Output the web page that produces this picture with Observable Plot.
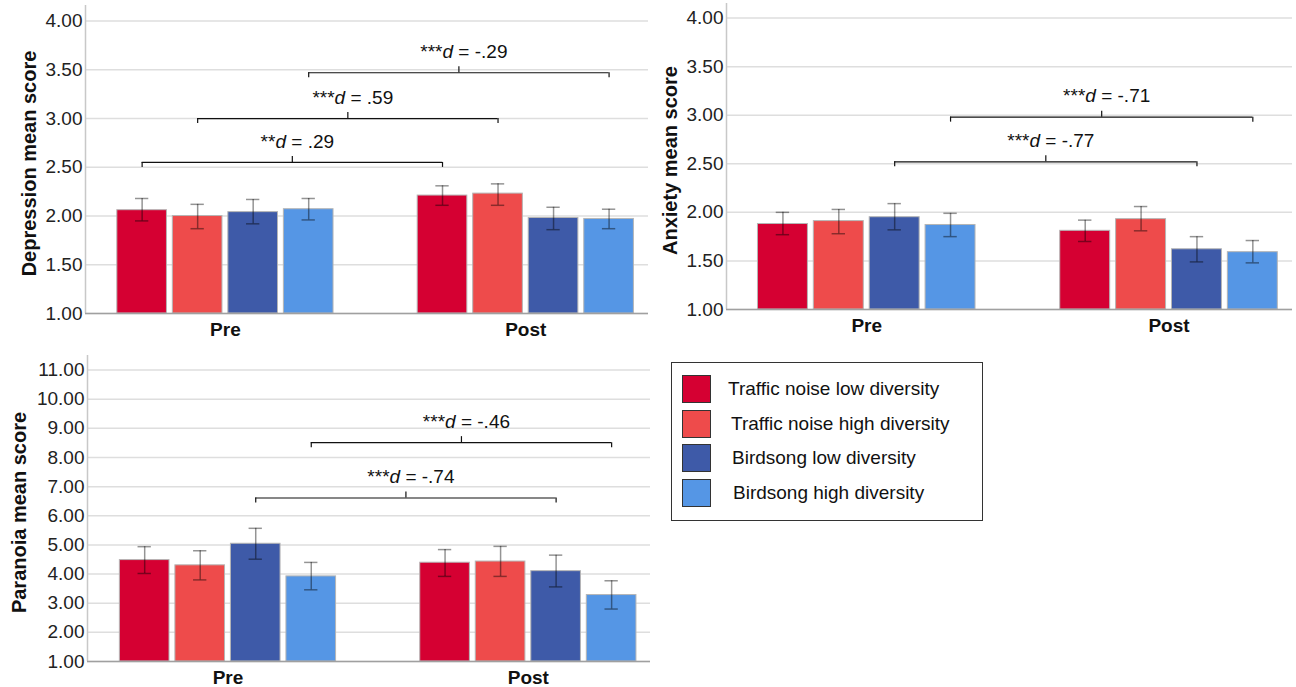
<!DOCTYPE html>
<html>
<head>
<meta charset="utf-8">
<script src="https://cdn.jsdelivr.net/npm/d3@7"></script>
<script src="https://cdn.jsdelivr.net/npm/@observablehq/plot@0.6"></script>
<style>
  html, body { margin: 0; padding: 0; background: #fff; width: 1296px; height: 687px; overflow: hidden; }
  body { position: relative; font-family: "Liberation Sans", Arial, sans-serif; }
  .panel { position: absolute; }
  #legend { position: absolute; left: 671px; top: 362px; width: 310px; height: 157px; border: 1px solid #333; }
  .lrow { position: absolute; left: 10px; height: 28px; display: flex; align-items: center; }
  .lsw { width: 27px; height: 26px; border: 1px solid #333; }
  .ltx { position: absolute; left: 47px; white-space: nowrap; font-size: 19px; color: #111; }
</style>
</head>
<body>
<div id="p1" class="panel" style="left:0;top:0"></div>
<div id="p2" class="panel" style="left:650px;top:0"></div>
<div id="p3" class="panel" style="left:0;top:340px"></div>
<div id="legend"></div>
<script>
// ---------- data ----------
const times = ["Pre", "Post"];
const conditions = ["Traffic noise low diversity", "Traffic noise high diversity", "Birdsong low diversity", "Birdsong high diversity"];
const colors = ["#d50032", "#ee4b4b", "#3e5aa8", "#5596e5"];

// order: Pre (4 conditions), Post (4 conditions)
const depressionMean = [2.06, 2.00, 2.04, 2.07, 2.21, 2.23, 1.98, 1.97];
const depressionLow  = [1.95, 1.87, 1.92, 1.96, 2.11, 2.11, 1.86, 1.87];
const depressionHigh = [2.18, 2.12, 2.17, 2.18, 2.31, 2.33, 2.09, 2.07];

const anxietyMean = [1.88, 1.91, 1.95, 1.87, 1.81, 1.93, 1.62, 1.59];
const anxietyLow  = [1.77, 1.78, 1.82, 1.75, 1.70, 1.81, 1.49, 1.48];
const anxietyHigh = [2.00, 2.03, 2.09, 1.99, 1.92, 2.06, 1.75, 1.71];

const paranoiaMean = [4.48, 4.30, 5.04, 3.92, 4.39, 4.43, 4.10, 3.28];
const paranoiaLow  = [4.02, 3.80, 4.51, 3.46, 3.92, 3.92, 3.56, 2.80];
const paranoiaHigh = [4.94, 4.80, 5.57, 4.40, 4.84, 4.95, 4.65, 3.77];

const depressionTicks = [1, 1.5, 2, 2.5, 3, 3.5, 4];
const anxietyTicks = [1, 1.5, 2, 2.5, 3, 3.5, 4];
const paranoiaTicks = [1, 2, 3, 4, 5, 6, 7, 8, 9, 10, 11];

// brackets: condition index compared Pre vs Post, level (score), label
const depressionBrackets = [
  {cond: 0, level: 2.55, label: "**d = .29"},
  {cond: 1, level: 3.00, label: "***d = .59"},
  {cond: 3, level: 3.47, label: "***d = -.29"}
];
const anxietyBrackets = [
  {cond: 2, level: 2.52, label: "***d = -.77"},
  {cond: 3, level: 2.98, label: "***d = -.71"}
];
const paranoiaBrackets = [
  {cond: 2, level: 6.61, label: "***d = -.74"},
  {cond: 3, level: 8.51, label: "***d = -.46"}
];

// ---------- layout ----------
const GROUP_GAP = 5.41;   // distance between Pre and Post groups, in bar steps
const HALF = 0.447;       // half bar width, in bar steps
const CAP = 0.12;         // half error-cap width
const FONT = "'Liberation Sans', Arial, sans-serif";

function slot(t, c) { return t * GROUP_GAP + c; }

function rows(mean, low, high) {
  const out = [];
  times.forEach((t, ti) => conditions.forEach((c, ci) => {
    const i = ti * conditions.length + ci;
    out.push({time: t, cond: c, pos: slot(ti, ci), mean: mean[i], low: low[i], high: high[i]});
  }));
  return out;
}

function panel(el, cfg) {
  const data = rows(cfg.mean, cfg.low, cfg.high);
  const ymin = cfg.yDomain[0];
  const pxPerUnit = (cfg.height - cfg.marginTop - cfg.marginBottom) / (cfg.yDomain[1] - cfg.yDomain[0]);
  const dip = 5 / pxPerUnit, rise = 6 / pxPerUnit;
  const br = cfg.brackets.map(b => {
    const x1 = slot(0, b.cond), x2 = slot(1, b.cond);
    return {...b, x1, x2, mid: (x1 + x2) / 2};
  });
  const centers = times.map((t, ti) => slot(ti, (conditions.length - 1) / 2));
  const centerLabel = new Map(centers.map((c, i) => [c, times[i]]));

  const svg = Plot.plot({
    width: cfg.width, height: cfg.height,
    marginLeft: cfg.marginLeft, marginRight: cfg.marginRight,
    marginTop: cfg.marginTop, marginBottom: cfg.marginBottom,
    style: {fontFamily: FONT, background: "transparent", color: "#222", overflow: "visible"},
    x: {type: "linear", domain: cfg.xDomain},
    y: {domain: cfg.yDomain},
    color: {domain: conditions, range: colors},
    marks: [
      Plot.gridY(cfg.ticks, {stroke: "#dedede", strokeOpacity: 1, strokeWidth: 1.5}),
      Plot.rectY(data, {x1: d => d.pos - HALF, x2: d => d.pos + HALF, y1: ymin, y2: "mean", fill: "cond", stroke: "#b5b5b5", strokeWidth: 1}),
      Plot.ruleX(data, {x: "pos", y1: "low", y2: "high", stroke: "#000", strokeOpacity: 0.42, strokeWidth: 1.5}),
      Plot.ruleY(data, {y: "high", x1: d => d.pos - CAP, x2: d => d.pos + CAP, stroke: "#000", strokeOpacity: 0.42, strokeWidth: 1.5}),
      Plot.ruleY(data, {y: "low", x1: d => d.pos - CAP, x2: d => d.pos + CAP, stroke: "#000", strokeOpacity: 0.42, strokeWidth: 1.5}),
      Plot.ruleX([cfg.xDomain[0]], {stroke: "#c8c8c8", strokeWidth: 1.5}),
      Plot.ruleY([ymin], {stroke: "#a0a0a0", strokeWidth: 1.5}),
      // brackets
      Plot.ruleY(br, {y: "level", x1: "x1", x2: "x2", stroke: "#111", strokeWidth: 1.2}),
      Plot.ruleX(br, {x: "x1", y1: d => d.level - dip, y2: "level", stroke: "#111", strokeWidth: 1.2}),
      Plot.ruleX(br, {x: "x2", y1: d => d.level - dip, y2: "level", stroke: "#111", strokeWidth: 1.2}),
      Plot.ruleX(br, {x: "mid", y1: "level", y2: d => d.level + rise, stroke: "#111", strokeWidth: 1.2}),
      Plot.text(br, {x: "mid", y: "level", text: "label", dy: -21, dx: 5, fontSize: 19, fill: "#111", lineAnchor: "middle", className: "annot"}),
      // axes
      Plot.axisY({ticks: cfg.ticks, tickFormat: d => d.toFixed(2), tickSize: 0, tickPadding: 3, fontSize: 19, label: null}),
      Plot.axisX({ticks: centers, tickFormat: d => centerLabel.get(d), tickSize: 0, tickPadding: 9, fontSize: 19, fontWeight: "bold", fill: "#111", label: null}),
      Plot.text([cfg.title], {frameAnchor: "left", rotate: -90, dx: -cfg.titleOffset, dy: 4, fontSize: 20, fontWeight: "bold", fill: "#111", lineAnchor: "middle", textAnchor: "middle"})
    ]
  });

  // italic "d" in effect-size labels
  d3.select(svg).selectAll("g.annot text").each(function () {
    const t = this.textContent;
    const m = t.match(/^(\**)d(.*)$/);
    if (!m) return;
    const sel = d3.select(this);
    sel.text(null);
    sel.append("tspan").text(m[1]);
    sel.append("tspan").attr("font-style", "italic").text("d");
    sel.append("tspan").text(m[2]);
  });
  document.getElementById(el).appendChild(svg);
}

panel("p1", {
  mean: depressionMean, low: depressionLow, high: depressionHigh, ticks: depressionTicks,
  brackets: depressionBrackets, title: "Depression mean score",
  width: 650, height: 340, marginLeft: 85, marginRight: 2, marginTop: 5, marginBottom: 27,
  xDomain: [-1.02, 9.12], yDomain: [1, 4.16], titleOffset: 56
});
panel("p2", {
  mean: anxietyMean, low: anxietyLow, high: anxietyHigh, ticks: anxietyTicks,
  brackets: anxietyBrackets, title: "Anxiety mean score",
  width: 646, height: 340, marginLeft: 76, marginRight: 4, marginTop: 3, marginBottom: 31,
  xDomain: [-1.01, 9.12], yDomain: [1, 4.15], titleOffset: 56
});
panel("p3", {
  mean: paranoiaMean, low: paranoiaLow, high: paranoiaHigh, ticks: paranoiaTicks,
  brackets: paranoiaBrackets, title: "Paranoia mean score",
  width: 660, height: 347, marginLeft: 87, marginRight: 10, marginTop: 15, marginBottom: 26,
  xDomain: [-1.03, 9.11], yDomain: [1, 11.5], titleOffset: 68
});

// ---------- legend ----------
const legend = d3.select("#legend");
const textOffsets = [0, 3, 4, 5];
conditions.forEach((c, i) => {
  const row = legend.append("div").attr("class", "lrow").style("top", `${12 + i * 34.6}px`);
  row.append("div").attr("class", "lsw").style("background", colors[i]);
  row.append("div").attr("class", "ltx").style("left", `${46 + textOffsets[i]}px`).text(c);
});
</script>
</body>
</html>
